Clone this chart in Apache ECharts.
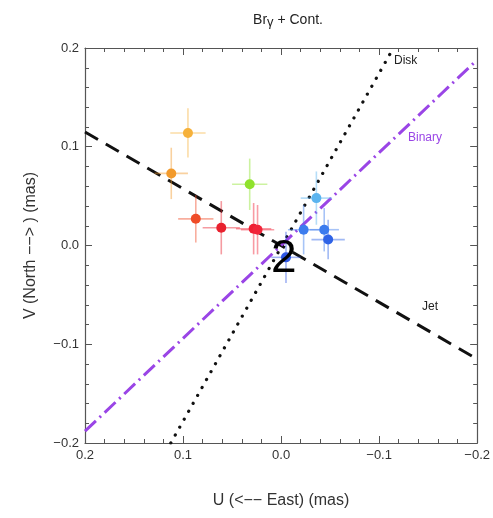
<!DOCTYPE html>
<html><head><meta charset="utf-8">
<script src="https://cdn.jsdelivr.net/npm/echarts@6/dist/echarts.min.js"></script>
<style>html,body{margin:0;padding:0;background:#fff}#c{width:493px;height:518px}</style>
</head><body><div id="c"></div>
<script>
// Data: U (mas), V (mas), error in U, error in V, colour
const pointU   = [0.095, 0.112, 0.032, 0.087, 0.061, 0.028, 0.024, -0.036, -0.023, -0.044, -0.048, -0.005];
const pointV   = [0.114, 0.073, 0.062, 0.027, 0.018, 0.017, 0.016, 0.048, 0.016, 0.016, 0.006, -0.012];
const errU     = [0.018, 0.017, 0.018, 0.018, 0.019, 0.018, 0.017, 0.016, 0.016, 0.015, 0.017, 0.015];
const errV     = [0.025, 0.026, 0.026, 0.024, 0.027, 0.026, 0.025, 0.027, 0.025, 0.022, 0.020, 0.026];
const pointColors = ['#f6b13a','#f29a2b','#8fe22c','#ef4b27','#e9212e','#ef1f33','#f1253a','#5bb4ef','#3c7cee','#3b7bee','#2f63e6','#2f57e4'];
// Reference lines (endpoints in data units)
const jetLine    = [[0.2, 0.115], [-0.2, -0.115]];
const diskLine   = [[0.1125, -0.2], [-0.1145, 0.2]];
const binaryLine = [[0.2, -0.188], [-0.2, 0.188]];
const xTicks = [0.2, 0.1, 0.0, -0.1, -0.2];
const yTicks = [-0.2, -0.1, 0.0, 0.1, 0.2];

function fmt(v){ const s = Math.abs(v).toFixed(1); return (v < -1e-9 ? '\u2212' : '') + s; }

const chart = echarts.init(document.getElementById('c'), null, {renderer:'canvas'});
const axisCol = '#555';
const baseAxis = {
  min:-0.2, max:0.2, interval:0.1,
  axisLine:{show:true, onZero:false, lineStyle:{color:axisCol, width:1.2}},
  axisTick:{show:true, inside:true, length:7, lineStyle:{color:axisCol}},
  minorTick:{show:true, splitNumber:5, length:4, lineStyle:{color:axisCol}},
  splitLine:{show:false},
  axisLabel:{color:'#333', fontSize:13, fontFamily:'Liberation Sans, Arial', formatter:fmt}
};
const points = pointU.map((u,i)=>({value:[u, pointV[i], errU[i], errV[i]], itemStyle:{color:pointColors[i]}}));

chart.setOption({
  animation:false,
  grid:{left:85, right:12, top:48, bottom:75},
  title:{text:'Br{g|\u03b3} + Cont.', left:283, textAlign:'center', top:7,
    textStyle:{fontSize:14, fontWeight:'normal', color:'#222', fontFamily:'Liberation Sans, Arial',
      rich:{g:{fontSize:13, padding:[4,0,0,0], color:'#222'}}}},
  xAxis:[
    Object.assign({}, baseAxis, {type:'value', inverse:true, position:'bottom',
      name:'U (<\u2212\u2212 East) (mas)', nameLocation:'middle', nameGap:50,
      nameTextStyle:{fontSize:16, color:'#333', fontFamily:'Liberation Sans, Arial'},
      axisLabel:Object.assign({}, baseAxis.axisLabel, {margin:6})}),
    Object.assign({}, baseAxis, {type:'value', inverse:true, position:'top', axisLabel:{show:false}})
  ],
  yAxis:[
    Object.assign({}, baseAxis, {type:'value', position:'left',
      name:'V (North \u2212\u2212> ) (mas)', nameLocation:'middle', nameGap:46,
      nameTextStyle:{fontSize:16, color:'#333', fontFamily:'Liberation Sans, Arial'},
      axisLabel:Object.assign({}, baseAxis.axisLabel, {margin:6})}),
    Object.assign({}, baseAxis, {type:'value', position:'right', axisLabel:{show:false}})
  ],
  series:[
    {type:'line', data:jetLine, symbol:'none', silent:true, z:3,
      lineStyle:{color:'#111', width:3, type:[15,9]}},
    {type:'line', data:diskLine, symbol:'none', silent:true, z:3,
      lineStyle:{color:'#111', width:3.2, type:[0.1,9], cap:'round'}},
    {type:'line', data:binaryLine, symbol:'none', silent:true, z:3,
      lineStyle:{color:'#9a45e6', width:3, type:[15,5,2,5], cap:'butt'}},
    {type:'custom', z:4, data:points,
      renderItem:function(params, api){
        const u=api.value(0), v=api.value(1), eu=api.value(2), ev=api.value(3);
        const col = pointColors[params.dataIndex];
        const a=api.coord([u-eu, v]), b=api.coord([u+eu, v]);
        const c=api.coord([u, v-ev]), d=api.coord([u, v+ev]);
        const st={stroke:col, lineWidth:1.6, opacity:0.45};
        return {type:'group', children:[
          {type:'line', shape:{x1:a[0],y1:a[1],x2:b[0],y2:b[1]}, style:st},
          {type:'line', shape:{x1:c[0],y1:c[1],x2:d[0],y2:d[1]}, style:st}
        ]};
      }},
    {type:'scatter', z:5, data:points, symbolSize:10, itemStyle:{opacity:1}},
  ],
  graphic:[
    {type:'text', left:394, top:55, style:{text:'Disk', fontSize:12, fill:'#222', fontFamily:'Liberation Sans, Arial'}},
    {type:'text', left:408, top:132, style:{text:'Binary', fontSize:12, fill:'#9a45e6', fontFamily:'Liberation Sans, Arial'}},
    {type:'text', left:422, top:301, style:{text:'Jet', fontSize:12, fill:'#222', fontFamily:'Liberation Sans, Arial'}},
    {type:'text', left:271, top:236, z:10, style:{text:'2', fontSize:46, fill:'#000', fontFamily:'Liberation Sans, Arial'}}
  ]
});
</script></body></html>
